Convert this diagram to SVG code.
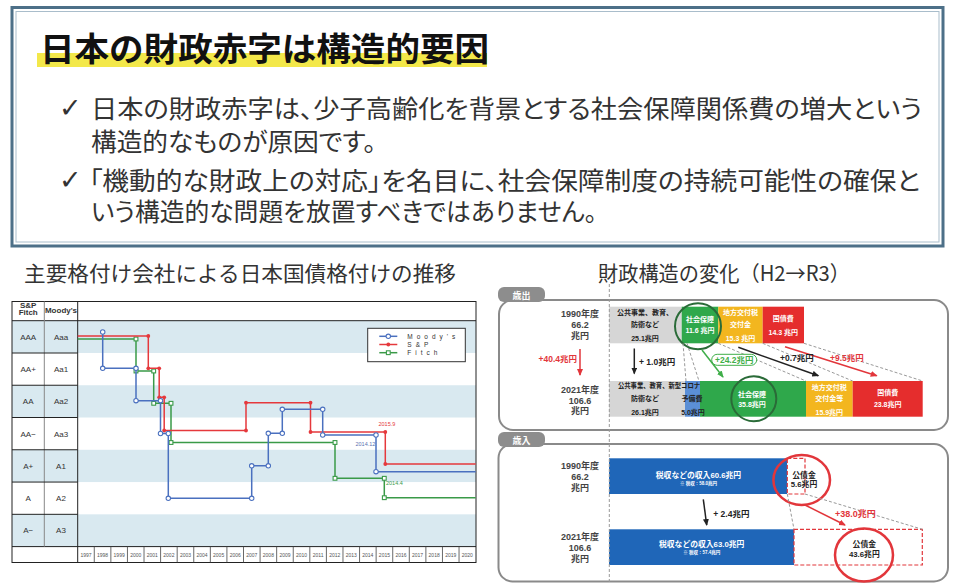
<svg xmlns="http://www.w3.org/2000/svg" xmlns:xlink="http://www.w3.org/1999/xlink" width="955" height="583" viewBox="0 0 955 583">
<style>
.jp{font-family:"Noto Sans CJK JP","Noto Sans",sans-serif}
.lj{font-family:"Liberation Sans","Noto Sans CJK JP",sans-serif}
.b{font-weight:700}
.bul{font-family:"Liberation Sans","Noto Sans CJK JP",sans-serif;font-size:25px;fill:#333;font-feature-settings:"palt"}
.chk{font-family:"DejaVu Sans",sans-serif;font-size:27px;fill:#333}
.head{font-family:"Noto Sans CJK JP",sans-serif;font-size:21px;fill:#333}
.rt{font-family:"Liberation Sans","Noto Sans CJK JP",sans-serif;font-size:8px;fill:#333;text-anchor:middle}
.yr{font-family:"Liberation Sans",sans-serif;font-size:5px;fill:#555;text-anchor:middle}
.lg{font-family:"Liberation Sans",sans-serif;font-size:6.5px;fill:#333;letter-spacing:4px}
.shade{fill:#d9e9f0}
.grid{stroke:#222;stroke-width:1;fill:none}
.ln{fill:none;stroke-width:1.5}
.mo{stroke:#4a70bf}
.sp{stroke:#e5383c}
.fi{stroke:#3a9a48}
.w{fill:#fff;text-anchor:middle}
.k{fill:#222;text-anchor:middle}
.s7{font-size:7px}
.s8{font-size:7.8px}
.lab{font-family:"Liberation Sans","Noto Sans CJK JP",sans-serif;font-size:9px;font-weight:700;fill:#444;text-anchor:middle}
.dash{stroke:#999;stroke-width:1;stroke-dasharray:3 2;fill:none}
.panel{fill:#fff;stroke:#8a8a8a;stroke-width:2}
.tab{fill:#8d8d8d}
</style>
<defs>
<marker id="ak" markerWidth="8" markerHeight="8" refX="6" refY="3" orient="auto" markerUnits="userSpaceOnUse"><path d="M0,0 L7,3 L0,6 z" fill="#222"/></marker>
<marker id="ar" markerWidth="8" markerHeight="8" refX="6" refY="3" orient="auto" markerUnits="userSpaceOnUse"><path d="M0,0 L7,3 L0,6 z" fill="#e2363b"/></marker>
<marker id="ag" markerWidth="8" markerHeight="8" refX="6" refY="3" orient="auto" markerUnits="userSpaceOnUse"><path d="M0,0 L7,3 L0,6 z" fill="#3fae49"/></marker>
<circle id="mb" r="2.2" fill="#fff" stroke="#4a70bf" stroke-width="1.1"/>
<circle id="mr" r="1.9" fill="#e5383c"/>
<rect id="mg" x="-1.9" y="-1.9" width="3.8" height="3.8" fill="#fff" stroke="#3a9a48" stroke-width="1.1"/>
</defs>
<rect width="955" height="583" fill="#fff"/>

<g id="summary">
<rect x="12" y="7.5" width="931" height="238.5" fill="#fff" stroke="#4d7088" stroke-width="3"/>
<rect x="16" y="11.5" width="923" height="230.5" fill="none" stroke="#a9bdcb" stroke-width="1"/>
<rect x="37" y="53" width="450" height="14" fill="#f3e84a"/>
<text x="40" y="60.5" class="jp b" font-size="33" fill="#111" textLength="449" lengthAdjust="spacingAndGlyphs">日本の財政赤字は構造的要因</text>
<text x="59" y="117" class="chk">✓</text>
<text x="91" y="118" class="bul" textLength="831" lengthAdjust="spacingAndGlyphs">日本の財政赤字は、少子高齢化を背景とする社会保障関係費の増大という</text>
<text x="91" y="151" class="bul" textLength="285" lengthAdjust="spacingAndGlyphs">構造的なものが原因です。</text>
<text x="59" y="189" class="chk">✓</text>
<text x="89" y="190" class="bul" textLength="831" lengthAdjust="spacingAndGlyphs">「機動的な財政上の対応」を名目に、社会保障制度の持続可能性の確保と</text>
<text x="91" y="221" class="bul" textLength="506" lengthAdjust="spacingAndGlyphs">いう構造的な問題を放置すべきではありません。</text>
</g>

<g id="headings">
<text x="24" y="281" class="head" textLength="432" lengthAdjust="spacingAndGlyphs">主要格付け会社による日本国債格付けの推移</text>
<text x="598" y="281" class="head" textLength="252" lengthAdjust="spacingAndGlyphs">財政構造の変化（H2→R3）</text>
</g>

<g id="rating-chart">
<rect x="12" y="301.5" width="464" height="261" fill="#fff"/>
<rect class="shade" x="12" y="320.7" width="464" height="32.27"/>
<rect class="shade" x="12" y="385.24" width="464" height="32.27"/>
<rect class="shade" x="12" y="449.78" width="464" height="32.27"/>
<rect class="shade" x="12" y="514.32" width="464" height="32.27"/>
<g class="grid">
<rect x="12" y="301.5" width="464" height="261"/>
<line x1="12" y1="320.7" x2="476" y2="320.7"/>
<line x1="12" y1="546.6" x2="476" y2="546.6"/>
<line x1="77.7" y1="301.5" x2="77.7" y2="562.5"/>
<line x1="44.3" y1="301.5" x2="44.3" y2="546.6" stroke="#888"/>
<path d="M12,353 H77.7 M12,385.24 H77.7 M12,417.51 H77.7 M12,449.78 H77.7 M12,482.05 H77.7 M12,514.32 H77.7"/>
<path stroke="#444" stroke-width="0.8" d="M94.28,546.6V562.5 M110.86,546.6V562.5 M127.44,546.6V562.5 M144.02,546.6V562.5 M160.6,546.6V562.5 M177.18,546.6V562.5 M193.76,546.6V562.5 M210.34,546.6V562.5 M226.92,546.6V562.5 M243.5,546.6V562.5 M260.08,546.6V562.5 M276.66,546.6V562.5 M293.24,546.6V562.5 M309.82,546.6V562.5 M326.4,546.6V562.5 M342.98,546.6V562.5 M359.56,546.6V562.5 M376.14,546.6V562.5 M392.72,546.6V562.5 M409.3,546.6V562.5 M425.88,546.6V562.5 M442.46,546.6V562.5 M459.04,546.6V562.5"/>
</g>
<text x="28.2" y="307.6" class="rt b" font-size="6">S&amp;P</text>
<text x="28.2" y="314.8" class="rt b" font-size="6">Fitch</text>
<text x="61" y="312.5" class="rt b" font-size="6">Moody's</text>
<g class="rt">
<text x="28.2" y="339.8">AAA</text><text x="61" y="339.8">Aaa</text>
<text x="28.2" y="372">AA+</text><text x="61" y="372">Aa1</text>
<text x="28.2" y="404.3">AA</text><text x="61" y="404.3">Aa2</text>
<text x="28.2" y="436.6">AA−</text><text x="61" y="436.6">Aa3</text>
<text x="28.2" y="468.9">A+</text><text x="61" y="468.9">A1</text>
<text x="28.2" y="501.2">A</text><text x="61" y="501.2">A2</text>
<text x="28.2" y="533.4">A−</text><text x="61" y="533.4">A3</text>
</g>
<g class="yr">
<text x="85.99" y="556.5">1997</text><text x="102.57" y="556.5">1998</text><text x="119.15" y="556.5">1999</text><text x="135.73" y="556.5">2000</text><text x="152.31" y="556.5">2001</text><text x="168.89" y="556.5">2002</text><text x="185.47" y="556.5">2003</text><text x="202.05" y="556.5">2004</text><text x="218.63" y="556.5">2005</text><text x="235.21" y="556.5">2006</text><text x="251.79" y="556.5">2007</text><text x="268.37" y="556.5">2008</text><text x="284.95" y="556.5">2009</text><text x="301.53" y="556.5">2010</text><text x="318.11" y="556.5">2011</text><text x="334.69" y="556.5">2012</text><text x="351.27" y="556.5">2013</text><text x="367.85" y="556.5">2014</text><text x="384.43" y="556.5">2015</text><text x="401.01" y="556.5">2016</text><text x="417.59" y="556.5">2017</text><text x="434.17" y="556.5">2018</text><text x="450.75" y="556.5">2019</text><text x="467.33" y="556.5">2020</text>
</g>
<g id="series-fitch">
<path class="ln fi" d="M77.7,339 H136 V371 H153.7 V403.3 H171 V442.5 H335 V478.3 H384.3 V497.7 H475.7"/>
<use xlink:href="#mg" x="136" y="339"/><use xlink:href="#mg" x="136" y="371"/><use xlink:href="#mg" x="153.7" y="371"/><use xlink:href="#mg" x="153.7" y="403.3"/><use xlink:href="#mg" x="171" y="403.3"/><use xlink:href="#mg" x="171" y="442.5"/><use xlink:href="#mg" x="335" y="442.5"/><use xlink:href="#mg" x="335" y="478.3"/><use xlink:href="#mg" x="384.3" y="478.3"/><use xlink:href="#mg" x="384.3" y="497.7"/>
</g>
<g id="series-sp">
<path class="ln sp" d="M77.7,336 H148.3 V368.3 H159.2 V397.3 H164.2 V430.5 H246 V402.7 H310.5 V432 H385.3 V464 H475.7"/>
<use xlink:href="#mr" x="148.3" y="336"/><use xlink:href="#mr" x="148.3" y="368.3"/><use xlink:href="#mr" x="159.2" y="368.3"/><use xlink:href="#mr" x="159.2" y="397.3"/><use xlink:href="#mr" x="164.2" y="397.3"/><use xlink:href="#mr" x="164.2" y="430.5"/><use xlink:href="#mr" x="246" y="430.5"/><use xlink:href="#mr" x="246" y="402.7"/><use xlink:href="#mr" x="310.5" y="402.7"/><use xlink:href="#mr" x="310.5" y="432"/><use xlink:href="#mr" x="385.3" y="432"/><use xlink:href="#mr" x="385.3" y="464"/>
</g>
<g id="series-moodys">
<path class="ln mo" d="M102.7,332 V368.3 H136 V400.7 H160.5 V433.5 H168.3 V498.3 H251.7 V465.8 H268.3 V433.3 H282.3 V409.3 H322.7 V435 H376 V471.7 H475.7"/>
<use xlink:href="#mb" x="102.7" y="332"/><use xlink:href="#mb" x="102.7" y="368.3"/><use xlink:href="#mb" x="136" y="368.3"/><use xlink:href="#mb" x="136" y="400.7"/><use xlink:href="#mb" x="160.5" y="400.7"/><use xlink:href="#mb" x="160.5" y="433.5"/><use xlink:href="#mb" x="168.3" y="433.5"/><use xlink:href="#mb" x="168.3" y="498.3"/><use xlink:href="#mb" x="251.7" y="498.3"/><use xlink:href="#mb" x="251.7" y="465.8"/><use xlink:href="#mb" x="268.3" y="465.8"/><use xlink:href="#mb" x="268.3" y="433.3"/><use xlink:href="#mb" x="282.3" y="433.3"/><use xlink:href="#mb" x="282.3" y="409.3"/><use xlink:href="#mb" x="322.7" y="409.3"/><use xlink:href="#mb" x="322.7" y="435"/><use xlink:href="#mb" x="376" y="435"/><use xlink:href="#mb" x="376" y="471.7"/>
</g>
<text x="378.5" y="426" font-family="Liberation Sans,sans-serif" font-size="5.5" fill="#e5383c">2015.9</text>
<text x="355.5" y="445.5" font-family="Liberation Sans,sans-serif" font-size="5.5" fill="#5a70b0">2014.12</text>
<text x="386" y="484.5" font-family="Liberation Sans,sans-serif" font-size="5.5" fill="#3a9a48">2014.4</text>
<g id="legend">
<rect x="367.7" y="328.3" width="97.6" height="33.4" fill="#fff" stroke="#333" stroke-width="1"/>
<line class="ln mo" x1="379.3" y1="336.3" x2="397.3" y2="336.3"/><use xlink:href="#mb" x="388.3" y="336.3"/>
<line class="ln sp" x1="379.3" y1="344.5" x2="397.3" y2="344.5"/><use xlink:href="#mr" x="388.3" y="344.5"/>
<line class="ln fi" x1="379.3" y1="352.7" x2="397.3" y2="352.7"/><use xlink:href="#mg" x="388.3" y="352.7"/>
<text x="407.3" y="338.6" class="lg">Moody's</text>
<text x="407.3" y="346.8" class="lg">S&amp;P</text>
<text x="407.3" y="355" class="lg">Fitch</text>
</g>
</g>

<g id="fiscal-structure">
<g id="expenditure">
<rect class="panel" x="499" y="300" width="449" height="130" rx="14"/>
<rect class="tab" x="498" y="287" width="47" height="15" rx="6"/>
<text x="521.5" y="298.5" class="jp b w" font-size="9">歳出</text>
<text x="580" y="317.3" class="lab">1990年度</text>
<text x="580" y="328.3" class="lab" font-size="9.5">66.2</text>
<text x="580" y="339" class="lab">兆円</text>
<text x="580" y="392.5" class="lab">2021年度</text>
<text x="580" y="403.5" class="lab" font-size="9.5">106.6</text>
<text x="580" y="414.2" class="lab">兆円</text>
<rect x="609" y="306.7" width="72.7" height="36.6" fill="#d6d6d6"/>
<rect x="681.7" y="306.7" width="36.6" height="36.6" fill="#2fa84b"/>
<rect x="718.3" y="306.7" width="44.4" height="36.6" fill="#f3b61f"/>
<rect x="762.7" y="306.7" width="41.3" height="36.6" fill="#e52d2d"/>
<rect x="609" y="381" width="76" height="35.7" fill="#d6d6d6"/>
<rect x="685" y="381" width="15" height="35.7" fill="#5b8fd6"/>
<rect x="700" y="381" width="106" height="35.7" fill="#2fa84b"/>
<rect x="806" y="381" width="46.7" height="35.7" fill="#f3b61f"/>
<rect x="852.7" y="381" width="70" height="35.7" fill="#e52d2d"/>
<g class="lj b s7">
<text x="645" y="314.5" class="k">公共事業、教育、</text>
<text x="645" y="327" class="k">防衛など</text>
<text x="645" y="340.5" class="k">25.1兆円</text>
<text x="700" y="321.5" class="w">社会保障</text>
<text x="700" y="333" class="w">11.6 兆円</text>
<text x="740.5" y="314.5" class="w">地方交付税</text>
<text x="740.5" y="327" class="w">交付金</text>
<text x="740.5" y="341" class="w">15.3 兆円</text>
<text x="783.3" y="321" class="w">国債費</text>
<text x="783.3" y="334.5" class="w">14.3 兆円</text>
<text x="618" y="388" fill="#222" textLength="82" lengthAdjust="spacingAndGlyphs">公共事業、教育、新型コロナ</text>
<text x="645" y="401" class="k">防衛など</text>
<text x="645" y="414.5" class="k">26.1兆円</text>
<text x="692" y="401" class="k">予備費</text>
<text x="693" y="414.5" class="k">5.0兆円</text>
<text x="752" y="396.5" class="w">社会保障</text>
<text x="752" y="407" class="w">35.8兆円</text>
<text x="829.3" y="389.5" class="w">地方交付税</text>
<text x="829.3" y="401" class="w">交付金等</text>
<text x="829.3" y="415" class="w">15.9兆円</text>
<text x="887.7" y="395" class="w">国債費</text>
<text x="887.7" y="407" class="w">23.8兆円</text>
</g>
<circle cx="698" cy="326.3" r="23" fill="none" stroke="#2a6b38" stroke-width="2"/>
<circle cx="753.8" cy="398.7" r="22.5" fill="none" stroke="#2a6b38" stroke-width="2"/>
</g>
<g id="revenue">
<rect class="panel" x="498.5" y="444" width="449.5" height="137.5" rx="14"/>
<rect class="tab" x="498" y="432" width="47" height="15" rx="6"/>
<text x="521.5" y="443.5" class="jp b w" font-size="9">歳入</text>
<text x="580" y="468.5" class="lab">1990年度</text>
<text x="580" y="480" class="lab" font-size="10">66.2</text>
<text x="580" y="491" class="lab">兆円</text>
<text x="580" y="539.5" class="lab">2021年度</text>
<text x="580" y="551" class="lab" font-size="10">106.6</text>
<text x="580" y="562" class="lab">兆円</text>
<rect x="609" y="458.3" width="178.3" height="35.7" fill="#1f66b8"/>
<rect x="609" y="529.3" width="185" height="35.7" fill="#1f66b8"/>
<rect x="787.3" y="458.3" width="17.7" height="35.7" fill="#fff" stroke="#e2363b" stroke-width="1.2" stroke-dasharray="4 2"/>
<rect x="794" y="529.3" width="128.3" height="35.7" fill="#fff" stroke="#e2363b" stroke-width="1.2" stroke-dasharray="4 2"/>
<g class="lj b">
<text x="698.5" y="478" class="w" font-size="7.8">税収などの収入60.6兆円</text>
<text x="698.5" y="484.8" class="w" font-size="4.5">※ 税収：58.0兆円</text>
<text x="701.7" y="547.3" class="w" font-size="7.8">税収などの収入63.0兆円</text>
<text x="701.7" y="554.1" class="w" font-size="4.5">※ 税収：57.4兆円</text>
<text x="804" y="477.5" class="k s8">公債金</text>
<text x="804" y="487" class="k s8">5.6兆円</text>
<text x="864.3" y="547" class="k s8">公債金</text>
<text x="864.3" y="556.5" class="k s8">43.6兆円</text>
</g>
<ellipse cx="801.7" cy="480" rx="28.3" ry="25" fill="none" stroke="#e2363b" stroke-width="2.5"/>
<ellipse cx="864" cy="555" rx="29" ry="26.5" fill="none" stroke="#e2363b" stroke-width="2.5"/>
</g>
<g id="connectors">
<line class="dash" x1="609.3" y1="284" x2="609.3" y2="583"/>
<line class="dash" x1="683" y1="343.3" x2="686" y2="381"/>
<line class="dash" x1="687" y1="343.3" x2="699" y2="381"/>
<line class="dash" x1="718.3" y1="343.3" x2="806" y2="381"/>
<line class="dash" x1="762.7" y1="343.3" x2="852.7" y2="381"/>
<line class="dash" x1="804" y1="343.3" x2="922.7" y2="381"/>
<line class="dash" x1="787.3" y1="494" x2="794" y2="529.3"/>
<line class="dash" x1="805" y1="494" x2="922.3" y2="529.3"/>
<line x1="580" y1="349" x2="580" y2="375" stroke="#e2363b" stroke-width="1.5" marker-end="url(#ar)"/>
<line x1="634.3" y1="348.5" x2="634.3" y2="373.5" stroke="#222" stroke-width="1.5" marker-end="url(#ak)"/>
<line x1="702" y1="350" x2="723" y2="377" stroke="#3fae49" stroke-width="1.5" marker-end="url(#ag)"/>
<line x1="738.3" y1="347.3" x2="818.3" y2="375.7" stroke="#222" stroke-width="1.5" marker-end="url(#ak)"/>
<line x1="785" y1="346.7" x2="876.7" y2="375.7" stroke="#e2363b" stroke-width="1.5" marker-end="url(#ar)"/>
<line x1="703.3" y1="499.3" x2="706.7" y2="525" stroke="#222" stroke-width="1.5" marker-end="url(#ak)"/>
<line x1="805" y1="505" x2="845" y2="525" stroke="#e2363b" stroke-width="1.5" marker-end="url(#ar)"/>
<rect x="711.7" y="354.3" width="45" height="11" rx="5.5" fill="#fff" stroke="#3fae49" stroke-width="1"/>
<g class="lj b">
<text x="577" y="362" font-size="8.5" fill="#e2363b" text-anchor="end">+40.4兆円</text>
<text x="639" y="364.5" font-size="8.5" fill="#222">+ 1.0兆円</text>
<text x="734.2" y="362.8" font-size="8.5" fill="#3fae49" text-anchor="middle">+24.2兆円</text>
<text x="780" y="360.5" font-size="8.5" fill="#222">+0.7兆円</text>
<text x="830" y="361" font-size="8.5" fill="#e2363b">+9.5兆円</text>
<text x="713.3" y="516.5" font-size="8.5" fill="#222">+ 2.4兆円</text>
<text x="835" y="517" font-size="9" fill="#e2363b">+38.0兆円</text>
</g>
</g>
</g>
</svg>
